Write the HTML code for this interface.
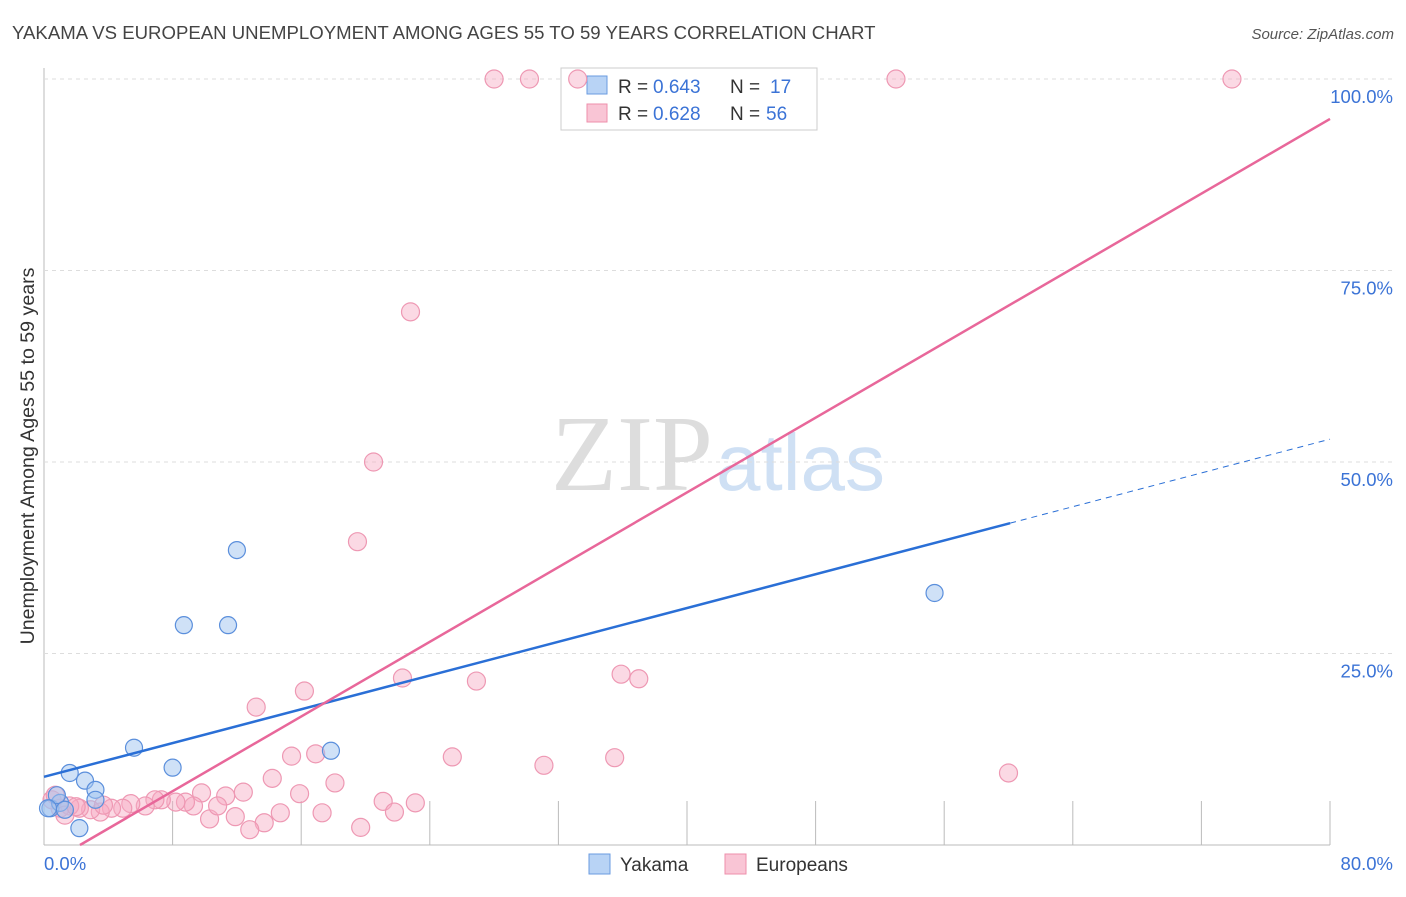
<!DOCTYPE html>
<html><head><meta charset="utf-8"><style>
body{margin:0;background:#fff;font-family:"Liberation Sans",sans-serif}
svg text{font-family:"Liberation Sans",sans-serif}
</style></head><body>
<svg id="c" width="1406" height="892" xmlns="http://www.w3.org/2000/svg">
<text x="12" y="39" font-size="18.6" fill="#444">YAKAMA VS EUROPEAN UNEMPLOYMENT AMONG AGES 55 TO 59 YEARS CORRELATION CHART</text>
<text x="1394" y="39" font-size="15" fill="#555" font-style="italic" text-anchor="end">Source: ZipAtlas.com</text>
<text x="713" y="490" font-size="108" fill="#ddd" text-anchor="end" style="font-family:'Liberation Serif',serif">ZIP</text>
<text x="716" y="490" font-size="80" fill="#cfe0f4">atlas</text>
<text transform="translate(34,456) rotate(-90)" font-size="19.6" fill="#333" text-anchor="middle">Unemployment Among Ages 55 to 59 years</text>
<g id="grid"></g>
<g>
<rect x="561" y="68" width="256" height="62" fill="#fff" stroke="#ccc"/>
<rect x="587" y="76" width="20" height="18" fill="#b8d3f5" stroke="#6a9be0"/>
<rect x="587" y="104" width="20" height="18" fill="#f9c5d5" stroke="#ee8fab"/>
<text x="618" y="93" font-size="19" fill="#333">R =</text>
<text x="653" y="93" font-size="19" fill="#3b73d6">0.643</text>
<text x="730" y="93" font-size="19" fill="#333">N =</text>
<text x="770" y="93" font-size="19" fill="#3b73d6">17</text>
<text x="618" y="120" font-size="19" fill="#333">R =</text>
<text x="653" y="120" font-size="19" fill="#3b73d6">0.628</text>
<text x="730" y="120" font-size="19" fill="#333">N =</text>
<text x="766" y="120" font-size="19" fill="#3b73d6">56</text>
</g>
<g id="marks"></g>
<g>
<rect x="589" y="854" width="21" height="20" fill="#b8d3f5" stroke="#6a9be0"/>
<text x="620" y="871" font-size="19" fill="#333">Yakama</text>
<rect x="725" y="854" width="21" height="20" fill="#f9c5d5" stroke="#ee8fab"/>
<text x="756" y="871" font-size="19" fill="#333">Europeans</text>
</g>
</svg>
<script>
const xTicks=[0,8,16,24,32,40,48,56,64,72,80];
const yTicks=[25,50,75,100];
const yakX=[1.6,2.55,3.2,3.2,5.6,8.0,8.7,11.45,12.0,17.85,55.4,2.2,0.4,1.0,0.8,0.25,1.3];
const yakY=[9.4,8.4,7.2,5.9,12.7,10.1,28.7,28.7,38.5,12.3,32.9,2.2,4.8,5.5,6.5,4.8,4.6];
const eurX=[28.0,30.2,33.2,53.0,73.9,22.8,20.5,19.5,13.2,16.2,22.3,26.9,35.9,37.0,60.0,25.4,31.1,35.5,15.4,16.9,18.1,14.2,15.9,12.4,21.1,23.1,21.8,19.7,17.3,14.7,13.7,12.8,11.9,11.3,10.3,9.8,10.8,9.3,8.8,8.2,7.3,6.9,6.3,5.4,4.9,4.2,3.5,2.9,2.2,1.6,1.0,0.5,0.7,1.3,3.7,2.0];
const eurY=[100,100,100,100,100,69.6,50,39.6,18,20.1,21.8,21.4,22.3,21.7,9.4,11.5,10.4,11.4,11.6,11.9,8.1,8.7,6.7,6.9,5.7,5.5,4.3,2.3,4.2,4.2,2.9,2.0,3.7,6.4,3.4,6.8,5.1,5.1,5.6,5.6,5.9,5.9,5.1,5.4,4.8,4.8,4.3,4.6,4.8,5.1,4.8,5.9,6.5,3.9,5.2,5.0];
const yakLine=[8.9,0.551,60.1];   // intercept, slope, solid end x
const eurLine=[-2.73,1.219];
const X=v=>44+v/80*1286, Y=v=>845-v/100*766;
const NS='http://www.w3.org/2000/svg';
const grid=document.getElementById('grid'), marks=document.getElementById('marks');
function mk(p,tag,a){const e=document.createElementNS(NS,tag);for(const k in a)e.setAttribute(k,a[k]);p.appendChild(e);return e;}
let ax=mk(grid,'line',{x1:44,y1:68,x2:44,y2:845,stroke:'#bbb'});


let bx=mk(grid,'line',{x1:44,y1:845,x2:1330,y2:845,stroke:'#bbb'});


yTicks.forEach(t=>{
 const g=mk(grid,'line',{x1:44,y1:Y(t),x2:1394,y2:Y(t),stroke:'#ddd','stroke-dasharray':'4,4'});
 
 
 const l=mk(grid,'text',{x:1393,y:Y(t)+24,'font-size':18.5,fill:'#3b73d6','text-anchor':'end'});
 l.textContent=t.toFixed(1)+'%';
 
 
});
xTicks.forEach((t,i)=>{
 if(i===0)return;
 const g=mk(grid,'line',{x1:X(t),y1:801,x2:X(t),y2:845,stroke:'#bbb'});
 
 
});
[[0,'start',44],[80,'end',1393]].forEach(([t,a,x])=>{
 const l=mk(grid,'text',{x:x,y:870,'font-size':18.5,fill:'#3b73d6','text-anchor':a});
 l.textContent=t.toFixed(1)+'%';
 
 
});
eurX.forEach((x,i)=>{
 const c=mk(marks,'circle',{cx:X(x),cy:Y(eurY[i]),r:9,fill:'rgba(246,170,195,0.45)',stroke:'#ee98b3','stroke-width':1.2});
 
 
});
yakX.forEach((x,i)=>{
 const c=mk(marks,'circle',{cx:X(x),cy:Y(yakY[i]),r:8.5,fill:'rgba(160,196,240,0.5)',stroke:'#5b8fdc','stroke-width':1.2});
 
 
});
const f=(L,x)=>L[0]+L[1]*x;
let b1=mk(marks,'line',{x1:X(0),y1:Y(f(yakLine,0)),x2:X(yakLine[2]),y2:Y(f(yakLine,yakLine[2])),stroke:'#2a6fd6','stroke-width':2.5});


let b2=mk(marks,'line',{x1:X(yakLine[2]),y1:Y(f(yakLine,yakLine[2])),x2:X(80),y2:Y(f(yakLine,80)),stroke:'#2a6fd6','stroke-width':1,'stroke-dasharray':'6,5'});


const x0=-eurLine[0]/eurLine[1];
let p1=mk(marks,'line',{x1:X(x0),y1:Y(0),x2:X(80),y2:Y(f(eurLine,80)),stroke:'#e8679a','stroke-width':2.5});


</script>
</body></html>
